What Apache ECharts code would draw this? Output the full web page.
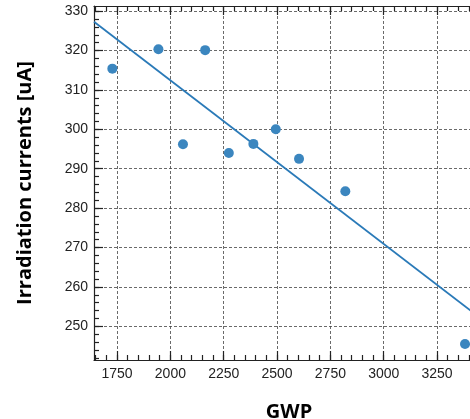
<!DOCTYPE html>
<html>
<head>
<meta charset="utf-8">
<script src="https://cdn.jsdelivr.net/npm/echarts@6/dist/echarts.min.js"></script>
<style>
  html, body { margin: 0; padding: 0; background: #fff; }
  #chart { width: 470px; height: 419px; }
</style>
</head>
<body>
<div id="chart"></div>
<script>
// measured points (GWP, irradiation current)
const gwp = [1728, 1944, 2163, 2059, 2274, 2389, 2494, 2603, 2820, 3381];
const current = [315.4, 320.3, 320.1, 296.2, 294.0, 296.3, 300.0, 292.5, 284.3, 245.5];

// fitted line end points
const fitX = [1642, 3470];
const fitY = [327.3, 251.4];

// tick positions
const xTicks = [1750, 2000, 2250, 2500, 2750, 3000, 3250];
const yTicks = [250, 260, 270, 280, 290, 300, 310, 320, 330];

const xMin = 1642, xMax = 3470;
const yMin = 241.45, yMax = 331.3;

function range(a, b, step) {
  let out = [];
  for (let v = a; v <= b + 1e-9; v += step) out.push(v);
  return out;
}
const xMinor = range(1650, 3450, 50);
const yMinor = range(242, 330, 2);

const myChart = echarts.init(document.getElementById('chart'));

const spine = { color: '#222', width: 1.2 };
const gridDash = { color: '#444', width: 0.8, type: [3, 2] };
const labelFont = { fontFamily: 'Liberation Sans', fontSize: 14, color: '#222' };

function xAx(pos, opts) {
  return Object.assign({
    type: 'value',
    position: pos,
    min: xMin,
    max: xMax,
    axisLine: { show: false },
    axisTick: { show: false },
    axisLabel: { show: false },
    splitLine: { show: false },
  }, opts);
}
function yAx(opts) {
  return Object.assign({
    type: 'value',
    position: 'left',
    min: yMin,
    max: yMax,
    axisLine: { show: false },
    axisTick: { show: false },
    axisLabel: { show: false },
    splitLine: { show: false },
  }, opts);
}

const pointData = gwp.map((x, i) => [x, current[i]]);
const lineData = fitX.map((x, i) => [x, fitY[i]]);

const option = {
  animation: false,
  grid: { left: 94, top: 6, right: -14, bottom: 59, containLabel: false, outerBoundsMode: 'none' },
  xAxis: [
    xAx('bottom', {
      name: 'GWP',
      nameLocation: 'middle',
      nameGap: 42,
      nameTextStyle: { fontFamily: 'Open Sans', fontWeight: 'bold', fontSize: 20, color: '#000' },
      axisLine: { show: true, onZero: false, lineStyle: spine },
      axisTick: { show: true, inside: true, length: 9, customValues: xTicks, lineStyle: spine },
      axisLabel: Object.assign({ show: true, margin: 7, customValues: xTicks, formatter: (v) => String(v) }, labelFont),
      splitLine: { show: true, lineStyle: gridDash },
    }),
    xAx('bottom', {
      axisTick: { show: true, inside: true, length: 5, customValues: xMinor, lineStyle: spine },
    }),
    xAx('top', {
      axisLine: { show: true, onZero: false, lineStyle: spine },
      axisTick: { show: true, inside: true, length: 9, customValues: xTicks, lineStyle: spine },
    }),
    xAx('top', {
      axisTick: { show: true, inside: true, length: 5, customValues: xMinor, lineStyle: spine },
    }),
  ],
  yAxis: [
    yAx({
      name: 'Irradiation currents [uA]',
      nameLocation: 'middle',
      nameGap: 59,
      nameTextStyle: { fontFamily: 'Open Sans', fontWeight: 'bold', fontSize: 20, color: '#000' },
      axisLine: { show: true, onZero: false, lineStyle: spine },
      axisTick: { show: true, inside: true, length: 9, customValues: yTicks, lineStyle: spine },
      axisLabel: Object.assign({ show: true, margin: 6, customValues: yTicks, formatter: (v) => String(v) }, labelFont),
      splitLine: { show: true, lineStyle: gridDash },
    }),
    yAx({
      axisTick: { show: true, inside: true, length: 5, customValues: yMinor, lineStyle: spine },
    }),
  ],
  series: [
    {
      name: 'fit',
      type: 'line',
      data: lineData,
      showSymbol: false,
      symbol: 'none',
      lineStyle: { color: '#2a7ab8', width: 1.8 },
      z: 2,
    },
    {
      name: 'points',
      type: 'scatter',
      data: pointData,
      symbolSize: 10,
      itemStyle: { color: '#3b86bf', opacity: 1 },
      z: 3,
    },
  ],
};

myChart.setOption(option);
</script>
</body>
</html>
